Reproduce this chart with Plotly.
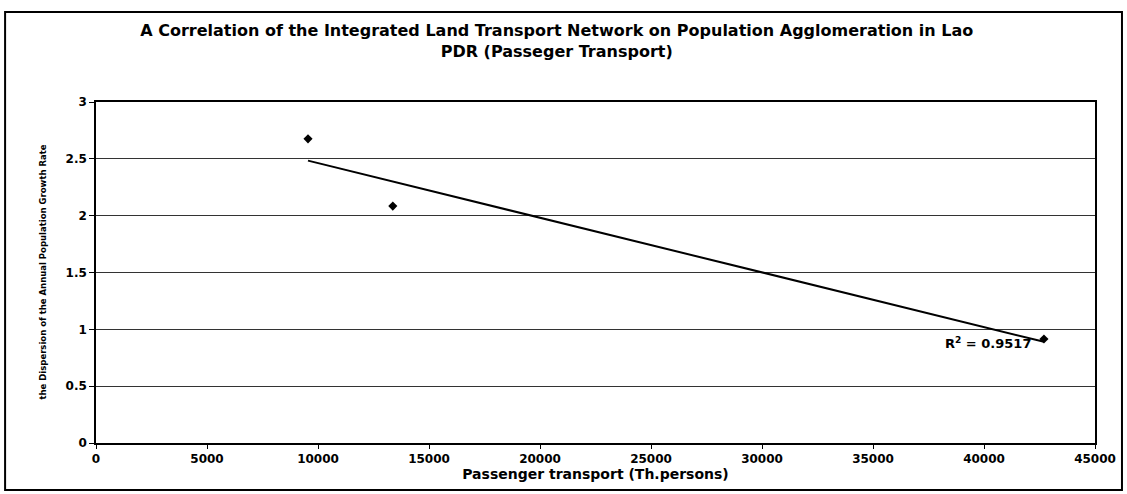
import numpy as np
import plotly.graph_objs as go

# Values
passenger_transport = [9550, 13370, 42700]   # Th. persons
growth_dispersion = [2.676, 2.084, 0.915]
r_squared_label = "R<sup>2</sup> = 0.9517"

x_ticks = [0, 5000, 10000, 15000, 20000, 25000, 30000, 35000, 40000, 45000]
y_ticks = [0, 0.5, 1, 1.5, 2, 2.5, 3]

# Linear trendline through the points (same as the Excel trendline)
slope, intercept = np.polyfit(passenger_transport, growth_dispersion, 1)
trend_x = [min(passenger_transport), max(passenger_transport)]
trend_y = [slope * v + intercept for v in trend_x]

font_main = dict(family="DejaVu Sans, Arial, sans-serif", color="black", weight="bold")

fig = go.Figure()

fig.add_trace(go.Scatter(
    x=trend_x, y=trend_y, mode="lines",
    line=dict(color="black", width=2),
    showlegend=False, hoverinfo="skip"
))

fig.add_trace(go.Scatter(
    x=passenger_transport, y=growth_dispersion, mode="markers",
    marker=dict(symbol="diamond", size=7, color="black"),
    showlegend=False
))

# R squared label
fig.add_annotation(
    text=r_squared_label, x=42200, y=0.88, xref="x", yref="y",
    xanchor="right", yanchor="middle", showarrow=False,
    font=dict(size=13, **font_main)
)

# Vertical y-axis title
fig.add_annotation(
    text="the Dispersion of the Annual Population Growth Rate",
    xref="paper", yref="paper", x=-0.054, y=0.5, textangle=-90,
    xanchor="center", yanchor="middle", showarrow=False,
    font=dict(size=8.5, **font_main)
)

# Chart area border
fig.add_shape(
    type="rect", xref="paper", yref="paper",
    x0=-0.091, x1=1.027, y0=-0.138, y1=1.264,
    line=dict(color="black", width=2), fillcolor="rgba(0,0,0,0)"
)

fig.update_layout(
    width=1127, height=494,
    margin=dict(l=96, r=32, t=102, b=51),
    paper_bgcolor="white", plot_bgcolor="white",
    title=dict(
        text="A Correlation of the Integrated Land Transport Network on Population Agglomeration in Lao<br>PDR (Passeger Transport)",
        x=0.494, xanchor="center", y=0.927, yanchor="middle",
        font=dict(size=16, **font_main)
    ),
    xaxis=dict(
        range=[0, 45000], tickvals=x_ticks, tickformat="d",
        showgrid=False, zeroline=False,
        showline=True, linecolor="black", linewidth=1.5, mirror=True,
        ticks="outside", ticklen=4, tickcolor="black",
        tickfont=dict(size=12, **font_main),
        title=dict(text="Passenger transport (Th.persons)", standoff=3,
                   font=dict(size=14, **font_main))
    ),
    yaxis=dict(
        range=[0, 3], tickvals=y_ticks, showgrid=True, gridcolor="#333333",
        gridwidth=1, zeroline=False,
        showline=True, linecolor="black", linewidth=1.5, mirror=True,
        ticks="outside", ticklen=5, tickcolor="black",
        tickfont=dict(size=12, **font_main)
    )
)

fig.write_html("out.html", config={"displayModeBar": False},
               post_script="document.body.style.margin='0';")
